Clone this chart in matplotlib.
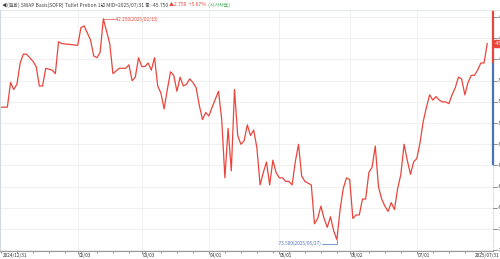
import numpy as np
import matplotlib
matplotlib.use("Agg")
import matplotlib.pyplot as plt
from matplotlib import font_manager
from matplotlib.transforms import blended_transform_factory

avail = {f.name for f in font_manager.fontManager.ttflist}
cjk = [n for n in ["Noto Sans CJK KR", "Noto Sans CJK JP", "Noto Sans CJK SC", "Noto Sans CJK TC"] if n in avail]
FAM = cjk[:1] + ["DejaVu Sans"]
plt.rcParams['font.family'] = FAM

dates = [
    "2024-12-31", "2025-01-02", "2025-01-03", "2025-01-06", "2025-01-07", "2025-01-08",
    "2025-01-09", "2025-01-10", "2025-01-13", "2025-01-14", "2025-01-15", "2025-01-16",
    "2025-01-17", "2025-01-20", "2025-01-22", "2025-01-23", "2025-01-24", "2025-01-27",
    "2025-02-03", "2025-02-04", "2025-02-05", "2025-02-06", "2025-02-07", "2025-02-10",
    "2025-02-11", "2025-02-12", "2025-02-13", "2025-02-17", "2025-02-18", "2025-02-20",
    "2025-02-24", "2025-02-25", "2025-02-26", "2025-02-27", "2025-02-28", "2025-03-03",
    "2025-03-04", "2025-03-05", "2025-03-06", "2025-03-07", "2025-03-10", "2025-03-11",
    "2025-03-12", "2025-03-13", "2025-03-14", "2025-03-17", "2025-03-18", "2025-03-19",
    "2025-03-20", "2025-03-21", "2025-03-24", "2025-03-25", "2025-03-26", "2025-03-27",
    "2025-03-28", "2025-03-31", "2025-04-01", "2025-04-02", "2025-04-04", "2025-04-07",
    "2025-04-08", "2025-04-09", "2025-04-10", "2025-04-11", "2025-04-14", "2025-04-15",
    "2025-04-16", "2025-04-17", "2025-04-18", "2025-04-21", "2025-04-22", "2025-04-23",
    "2025-04-24", "2025-04-25", "2025-04-28", "2025-04-29", "2025-04-30", "2025-05-01",
    "2025-05-02", "2025-05-05", "2025-05-06", "2025-05-07", "2025-05-08", "2025-05-09",
    "2025-05-12", "2025-05-13", "2025-05-14", "2025-05-15", "2025-05-16", "2025-05-19",
    "2025-05-20", "2025-05-21", "2025-05-22", "2025-05-23", "2025-05-26", "2025-05-27",
    "2025-05-28", "2025-05-29", "2025-05-30", "2025-06-02", "2025-06-03", "2025-06-04",
    "2025-06-05", "2025-06-06", "2025-06-09", "2025-06-10", "2025-06-11", "2025-06-12",
    "2025-06-13", "2025-06-16", "2025-06-17", "2025-06-18", "2025-06-19", "2025-06-20",
    "2025-06-23", "2025-06-24", "2025-06-25", "2025-06-26", "2025-06-27", "2025-06-30",
    "2025-07-01", "2025-07-02", "2025-07-03", "2025-07-04", "2025-07-07", "2025-07-08",
    "2025-07-09", "2025-07-10", "2025-07-11", "2025-07-14", "2025-07-15", "2025-07-16",
    "2025-07-17", "2025-07-18", "2025-07-21", "2025-07-22", "2025-07-23", "2025-07-24",
    "2025-07-25", "2025-07-28", "2025-07-29", "2025-07-30", "2025-07-31",
]
values = [
    -54.75, -54.75, -51.25, -52.25, -51.5, -48.5,
    -47.25, -47.25, -47.75, -48.25, -49.0, -51.75,
    -51.75, -49.25, -49.5, -50.0, -45.5, -45.75,
    -46.0, -43.5, -43.25, -44.25, -45.25, -47.5,
    -47.75, -47.0, -42.25, -45.75, -50.0, -49.25,
    -49.25, -48.75, -51.0, -50.5, -47.75, -49.0,
    -49.0, -48.5, -49.5, -47.75, -51.75, -52.75,
    -55.0, -52.25, -49.75, -50.25, -52.5, -50.5,
    -51.75, -51.5, -50.75, -51.25, -52.0, -54.5,
    -56.5, -55.5, -56.0, -54.75, -52.5, -56.5,
    -64.75, -57.75, -63.75, -52.25, -58.75, -60.0,
    -59.5, -57.25, -58.75, -58.0, -60.5, -65.75,
    -64.0, -62.5, -65.75, -62.25, -64.0, -64.75,
    -64.75, -65.25, -65.25, -65.75, -62.5, -60.0,
    -64.5, -65.25, -65.5, -65.75, -71.25, -70.5,
    -68.75, -70.5, -71.75, -70.25, -72.25, -73.5,
    -69.25, -66.25, -64.75, -65.0, -70.5, -70.0,
    -70.0, -67.75, -67.75, -64.0, -63.25, -60.25,
    -66.0, -67.75, -68.75, -69.5, -68.25, -69.25,
    -66.25, -64.25, -60.0, -62.25, -64.25, -62.5,
    -62.0, -59.75, -56.75, -54.75, -53.0, -53.75,
    -53.25, -53.75, -54.0, -54.0, -54.25, -53.0,
    -52.0, -50.5, -50.75, -53.0, -51.25, -50.25,
    -50.25, -49.5, -48.5, -48.5, -45.75,
]
tick_dates = ["2025-02-03", "2025-03-03", "2025-04-01", "2025-05-01", "2025-06-02", "2025-07-01"]
tick_labels = ["02/03", "03/03", "04/01", "05/01", "06/02", "07/01"]
start_label = "2024/12/31"
end_label = "2025/07/31"
y_ticks = [-42, -45, -48, -51, -54, -57, -60, -63, -66, -69, -72, -75]
blue_floor = -63.0
title_parts = [
    ("◀(원화) SWAP Basis(SOFR) Tullet Prebon 1년 MID>2025/07/31 종:-45.750 ", "#444444"),
    ("▲2.750  +5.67% ", "#e8463c"),
    (" (시가차트)", "#3aa64a"),
]

RED = "#e8463c"
BLUE = "#4a72b8"
FS = 3.4
x0 = np.datetime64("2024-12-31")
x = np.busday_count(x0, np.array(dates, dtype="datetime64[D]"))
tx = np.busday_count(x0, np.array(tick_dates, dtype="datetime64[D]"))

fig = plt.figure(figsize=(5.0, 2.59), dpi=100)
ax = fig.add_axes([0.0, 1 - 251 / 259, 493 / 500, (251 - 10) / 259])
ax.set_xlim(-0.3, 153.8)
ax.set_ylim(-75.1, -41.0)

ax.set_yticks(y_ticks)
ax.set_xticks(tx)
ax.grid(True, color="#eeeeee", linewidth=0.6)
ax.tick_params(axis="both", length=0, labelleft=False, labelbottom=False)
for s in ["top", "right"]:
    ax.spines[s].set_visible(False)
ax.spines["left"].set_color("#d0d8e0")
ax.spines["bottom"].set_color("#999999")
ax.spines["bottom"].set_linewidth(0.8)

ax.plot(x, values, color=RED, linewidth=0.9)

minor = np.arange(0, 154, 5)
ax.set_xticks(minor, minor=True)
ax.tick_params(axis="x", which="minor", length=1.5, color="#666666", direction="out", width=0.5)
ax.tick_params(axis="x", which="major", length=2, color="#666666", direction="out", width=0.5)

tr = blended_transform_factory(ax.transData, fig.transFigure)
ly = 1 - 255.5 / 259
ax.text(0.5, ly, start_label, transform=tr, fontsize=FS, color="#333333", ha="left", va="center", family=FAM)
for t, l in zip(tx, tick_labels):
    ax.text(t + 0.2, ly, l, transform=tr, fontsize=FS, color="#333333", ha="left", va="center", family=FAM)
fig.text(0.999, ly, end_label, fontsize=FS, color="#333333", ha="right", va="center", family=FAM)

bt = blended_transform_factory(ax.transAxes, ax.transData)
prev = values[-2]
ax.plot([1.0, 1.0], [-41.0, prev], transform=bt, color=RED, lw=1.6, clip_on=False, solid_capstyle="butt")
ax.plot([1.0, 1.0], [prev, blue_floor], transform=bt, color=BLUE, lw=1.6, clip_on=False, solid_capstyle="butt")
ax.plot([1.0, 1.0], [blue_floor, -75.1], transform=bt, color="#bbbbbb", lw=0.6, ls=(0, (1, 1)), clip_on=False)
for v in y_ticks:
    ax.plot([1.0, 1.008], [v, v], transform=bt, color="#666666", lw=0.5, clip_on=False)
    ax.text(1.010, v, f"{v:.3f}", transform=bt, fontsize=FS, color="#444444", ha="left", va="center", family=FAM)
ax.text(1.004, values[-1], f"{values[-1]:.3f}", transform=bt, fontsize=FS, color="white",
        ha="left", va="center", family=FAM, bbox=dict(boxstyle="square,pad=0.3", fc=RED, ec=RED))

imax = int(np.argmax(values))
imin = int(np.argmin(values))
ax.plot([x[imax], x[imax] + 3.5], [values[imax], values[imax]], color=RED, lw=0.5)
ax.text(x[imax] + 3.7, values[imax], f"{values[imax]:.3f}({dates[imax].replace('-', '/')})",
        fontsize=FS, color=RED, ha="left", va="center", family=FAM)
ax.plot([x[imin] - 4.5, x[imin], x[imin]], [values[imin] - 0.55, values[imin] - 0.55, values[imin]],
        color=BLUE, lw=0.5)
ax.text(x[imin] - 4.7, values[imin] - 0.55, f"{values[imin]:.3f}({dates[imin].replace('-', '/')})",
        fontsize=FS, color=BLUE, ha="right", va="center", family=FAM)

fig.canvas.draw()
renderer = fig.canvas.get_renderer()
px = 2
for txt, col in title_parts:
    t = fig.text(px / 500, 1 - 5 / 259, txt, fontsize=3.6, color=col, ha="left", va="center", family=FAM)
    bb = t.get_window_extent(renderer)
    px = bb.x1
fig.add_artist(plt.Line2D([0, 1], [1 - 9.5 / 259, 1 - 9.5 / 259], color="#dde4ea", lw=0.6))

fig.savefig("out.png", dpi=100)
